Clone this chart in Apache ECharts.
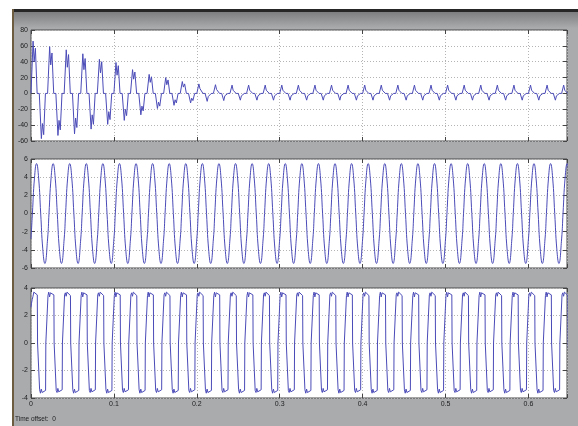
<!DOCTYPE html>
<html><head><meta charset="utf-8">
<script src="https://cdn.jsdelivr.net/npm/echarts@6/dist/echarts.min.js"></script>
<style>html,body{margin:0;padding:0;background:#fff}#c{width:578px;height:426px}</style>
</head><body><div id="c"></div>
<script>
// ---- shared time axis ----
const xTicks = [0, 0.1, 0.2, 0.3, 0.4, 0.5, 0.6];
const xMax = 0.6465;
const period = 0.02;

// ---- plot 1: decaying pulsed current ----
const y1Range = [-60, 80, 20];
const currentOffsets = [0, 0.0025, 0.0038, 0.0053, 0.0074, 0.0100, 0.0125, 0.0138, 0.0153, 0.0174];
const currentCycles = [
  [0, 66, 40, 57, 0, 0, -57, -38, -52, 0],
  [0, 59, 36, 51, 0, 0, -53, -34, -46, 0],
  [0, 55, 33, 49, 0, 0, -51, -31, -43, 0],
  [0, 50, 30, 44, 0, 0, -45, -27, -39, 0],
  [0, 43, 26, 40, 0, 0, -39, -23, -33, 0],
  [0, 39, 23, 35, 0, 0, -34, -20, -28, 0],
  [0, 30, 18, 27, 0, 0, -27, -16, -22, 0],
  [0, 24, 14, 21, 0, 0, -19, -11, -16, 0],
  [0, 20, 11, 17, 0, 0, -15, -8, -12, 0],
  [0, 15, 8, 12, 0, 0, -12, -6, -9, 0],
  [0, 12, 6, 8, 0, 0, -10, -4, -6, 0],
  [0, 11, 5, 6, 0, 0, -9, -3, -5, 0],
  [0, 10.5, 4, 5, 0, 0, -8.5, -3, -4, 0],
  [0, 10.5, 4, 5, 0, 0, -8.5, -3, -4, 0],
  [0, 10.5, 4, 5, 0, 0, -8.5, -3, -4, 0],
  [0, 10.5, 4, 5, 0, 0, -8.5, -3, -4, 0],
  [0, 10.5, 4, 5, 0, 0, -8.5, -3, -4, 0],
  [0, 10.5, 4, 5, 0, 0, -8.5, -3, -4, 0],
  [0, 10.5, 4, 5, 0, 0, -8.5, -3, -4, 0],
  [0, 10.5, 4, 5, 0, 0, -8.5, -3, -4, 0],
  [0, 10.5, 4, 5, 0, 0, -8.5, -3, -4, 0],
  [0, 10.5, 4, 5, 0, 0, -8.5, -3, -4, 0],
  [0, 10.5, 4, 5, 0, 0, -8.5, -3, -4, 0],
  [0, 10.5, 4, 5, 0, 0, -8.5, -3, -4, 0],
  [0, 10.5, 4, 5, 0, 0, -8.5, -3, -4, 0],
  [0, 10.5, 4, 5, 0, 0, -8.5, -3, -4, 0],
  [0, 10.5, 4, 5, 0, 0, -8.5, -3, -4, 0],
  [0, 10.5, 4, 5, 0, 0, -8.5, -3, -4, 0],
  [0, 10.5, 4, 5, 0, 0, -8.5, -3, -4, 0],
  [0, 10.5, 4, 5, 0, 0, -8.5, -3, -4, 0],
  [0, 10.5, 4, 5, 0, 0, -8.5, -3, -4, 0],
  [0, 10.5, 4, 5, 0, 0, -8.5, -3, -4, 0],
  [0, 10.5, 4, 5, 0, 0, -8.5, -3, -4, 0]
];

// ---- plot 2: sinusoid ----
const y2Range = [-6, 6, 2];
const sineOffsets = [0, 0.0017, 0.0042, 0.0067, 0.0092, 0.0117, 0.0142, 0.0167];
const sineCycles = [
  [-2.8, 0, 3.9, 5.5, 3.9, 0, -3.9, -5.5], [-2.8, 0, 3.9, 5.5, 3.9, 0, -3.9, -5.5],
  [-2.8, 0, 3.9, 5.5, 3.9, 0, -3.9, -5.5], [-2.8, 0, 3.9, 5.5, 3.9, 0, -3.9, -5.5],
  [-2.8, 0, 3.9, 5.5, 3.9, 0, -3.9, -5.5], [-2.8, 0, 3.9, 5.5, 3.9, 0, -3.9, -5.5],
  [-2.8, 0, 3.9, 5.5, 3.9, 0, -3.9, -5.5], [-2.8, 0, 3.9, 5.5, 3.9, 0, -3.9, -5.5],
  [-2.8, 0, 3.9, 5.5, 3.9, 0, -3.9, -5.5], [-2.8, 0, 3.9, 5.5, 3.9, 0, -3.9, -5.5],
  [-2.8, 0, 3.9, 5.5, 3.9, 0, -3.9, -5.5], [-2.8, 0, 3.9, 5.5, 3.9, 0, -3.9, -5.5],
  [-2.8, 0, 3.9, 5.5, 3.9, 0, -3.9, -5.5], [-2.8, 0, 3.9, 5.5, 3.9, 0, -3.9, -5.5],
  [-2.8, 0, 3.9, 5.5, 3.9, 0, -3.9, -5.5], [-2.8, 0, 3.9, 5.5, 3.9, 0, -3.9, -5.5],
  [-2.8, 0, 3.9, 5.5, 3.9, 0, -3.9, -5.5], [-2.8, 0, 3.9, 5.5, 3.9, 0, -3.9, -5.5],
  [-2.8, 0, 3.9, 5.5, 3.9, 0, -3.9, -5.5], [-2.8, 0, 3.9, 5.5, 3.9, 0, -3.9, -5.5],
  [-2.8, 0, 3.9, 5.5, 3.9, 0, -3.9, -5.5], [-2.8, 0, 3.9, 5.5, 3.9, 0, -3.9, -5.5],
  [-2.8, 0, 3.9, 5.5, 3.9, 0, -3.9, -5.5], [-2.8, 0, 3.9, 5.5, 3.9, 0, -3.9, -5.5],
  [-2.8, 0, 3.9, 5.5, 3.9, 0, -3.9, -5.5], [-2.8, 0, 3.9, 5.5, 3.9, 0, -3.9, -5.5],
  [-2.8, 0, 3.9, 5.5, 3.9, 0, -3.9, -5.5], [-2.8, 0, 3.9, 5.5, 3.9, 0, -3.9, -5.5],
  [-2.8, 0, 3.9, 5.5, 3.9, 0, -3.9, -5.5], [-2.8, 0, 3.9, 5.5, 3.9, 0, -3.9, -5.5],
  [-2.8, 0, 3.9, 5.5, 3.9, 0, -3.9, -5.5], [-2.8, 0, 3.9, 5.5, 3.9, 0, -3.9, -5.5],
  [-2.8, 0, 3.9, 5.5, 3.9, 0, -3.9, -5.5]
];

// ---- plot 3: three-level voltage ----
const y3Range = [-4, 4, 2];
const voltOffsets = [0, 0.0005, 0.0014, 0.0024, 0.0034, 0.0076, 0.0079, 0.0100, 0.0104, 0.0114, 0.0124, 0.0134, 0.0176, 0.0179];
const voltCycles = [
  [2.6, 2.85, 3.15, 3.4, 3.7, 3.5, 0, 0, -3.4, -3.65, -3.35, -3.6, -3.45, 0],
  [0, 3.45, 3.7, 3.35, 3.65, 3.5, 0, 0, -3.45, -3.6, -3.3, -3.55, -3.4, 0],
  [0, 3.5, 3.65, 3.4, 3.7, 3.45, 0, 0, -3.4, -3.65, -3.35, -3.6, -3.45, 0],
  [0, 3.45, 3.7, 3.35, 3.65, 3.5, 0, 0, -3.45, -3.6, -3.3, -3.55, -3.4, 0],
  [0, 3.5, 3.65, 3.4, 3.7, 3.45, 0, 0, -3.4, -3.65, -3.35, -3.6, -3.45, 0],
  [0, 3.45, 3.7, 3.35, 3.65, 3.5, 0, 0, -3.45, -3.6, -3.3, -3.55, -3.4, 0],
  [0, 3.5, 3.65, 3.4, 3.7, 3.45, 0, 0, -3.4, -3.65, -3.35, -3.6, -3.45, 0],
  [0, 3.45, 3.7, 3.35, 3.65, 3.5, 0, 0, -3.45, -3.6, -3.3, -3.55, -3.4, 0],
  [0, 3.5, 3.65, 3.4, 3.7, 3.45, 0, 0, -3.4, -3.65, -3.35, -3.6, -3.45, 0],
  [0, 3.45, 3.7, 3.35, 3.65, 3.5, 0, 0, -3.45, -3.6, -3.3, -3.55, -3.4, 0],
  [0, 3.5, 3.65, 3.4, 3.7, 3.45, 0, 0, -3.4, -3.65, -3.35, -3.6, -3.45, 0],
  [0, 3.45, 3.7, 3.35, 3.65, 3.5, 0, 0, -3.45, -3.6, -3.3, -3.55, -3.4, 0],
  [0, 3.5, 3.65, 3.4, 3.7, 3.45, 0, 0, -3.4, -3.65, -3.35, -3.6, -3.45, 0],
  [0, 3.45, 3.7, 3.35, 3.65, 3.5, 0, 0, -3.45, -3.6, -3.3, -3.55, -3.4, 0],
  [0, 3.5, 3.65, 3.4, 3.7, 3.45, 0, 0, -3.4, -3.65, -3.35, -3.6, -3.45, 0],
  [0, 3.45, 3.7, 3.35, 3.65, 3.5, 0, 0, -3.45, -3.6, -3.3, -3.55, -3.4, 0],
  [0, 3.5, 3.65, 3.4, 3.7, 3.45, 0, 0, -3.4, -3.65, -3.35, -3.6, -3.45, 0],
  [0, 3.45, 3.7, 3.35, 3.65, 3.5, 0, 0, -3.45, -3.6, -3.3, -3.55, -3.4, 0],
  [0, 3.5, 3.65, 3.4, 3.7, 3.45, 0, 0, -3.4, -3.65, -3.35, -3.6, -3.45, 0],
  [0, 3.45, 3.7, 3.35, 3.65, 3.5, 0, 0, -3.45, -3.6, -3.3, -3.55, -3.4, 0],
  [0, 3.5, 3.65, 3.4, 3.7, 3.45, 0, 0, -3.4, -3.65, -3.35, -3.6, -3.45, 0],
  [0, 3.45, 3.7, 3.35, 3.65, 3.5, 0, 0, -3.45, -3.6, -3.3, -3.55, -3.4, 0],
  [0, 3.5, 3.65, 3.4, 3.7, 3.45, 0, 0, -3.4, -3.65, -3.35, -3.6, -3.45, 0],
  [0, 3.45, 3.7, 3.35, 3.65, 3.5, 0, 0, -3.45, -3.6, -3.3, -3.55, -3.4, 0],
  [0, 3.5, 3.65, 3.4, 3.7, 3.45, 0, 0, -3.4, -3.65, -3.35, -3.6, -3.45, 0],
  [0, 3.45, 3.7, 3.35, 3.65, 3.5, 0, 0, -3.45, -3.6, -3.3, -3.55, -3.4, 0],
  [0, 3.5, 3.65, 3.4, 3.7, 3.45, 0, 0, -3.4, -3.65, -3.35, -3.6, -3.45, 0],
  [0, 3.45, 3.7, 3.35, 3.65, 3.5, 0, 0, -3.45, -3.6, -3.3, -3.55, -3.4, 0],
  [0, 3.5, 3.65, 3.4, 3.7, 3.45, 0, 0, -3.4, -3.65, -3.35, -3.6, -3.45, 0],
  [0, 3.45, 3.7, 3.35, 3.65, 3.5, 0, 0, -3.45, -3.6, -3.3, -3.55, -3.4, 0],
  [0, 3.5, 3.65, 3.4, 3.7, 3.45, 0, 0, -3.4, -3.65, -3.35, -3.6, -3.45, 0],
  [0, 3.45, 3.7, 3.35, 3.65, 3.5, 0, 0, -3.45, -3.6, -3.3, -3.55, -3.4, 0],
  [0, 3.5, 3.65, 3.4, 3.7, 3.45, 0, 0, -3.4, -3.65, -3.35, -3.6, -3.45, 0]
];

const footerText = 'Time offset:  0';

// ---- build ----
function fromCycles(cycles, offsets) {
  const out = [];
  cycles.forEach((row, k) => row.forEach((v, j) => out.push([k * period + offsets[j], v])));
  return out;
}

const FONT = 'Liberation Sans, Arial, sans-serif';
const LINE = '#4b4bb8';
const grids = [
  { left: 31, top: 30, width: 536, height: 111 },
  { left: 31, top: 159, width: 536, height: 109 },
  { left: 31, top: 288, width: 536, height: 110 }
].map(g => Object.assign(g, { show: true, backgroundColor: '#ffffff', borderColor: '#4a4a4a', borderWidth: 1 }));

const ranges = [y1Range, y2Range, y3Range];
const tick = { show: true, inside: true, length: 4, lineStyle: { color: '#444', width: 1 } };
const split = { show: true, lineStyle: { color: '#b4b4b4', width: 1, type: [1, 2] } };
const noLine = { show: false, onZero: false };

const xAxes = [], yAxes = [];
for (let i = 0; i < 3; i++) {
  xAxes.push({
    type: 'value', gridIndex: i, position: 'bottom', min: 0, max: xMax, interval: 0.1,
    axisLine: noLine, axisTick: tick, splitLine: split,
    axisLabel: {
      show: i === 2, fontSize: 7, color: '#222', margin: 3, fontFamily: FONT,
      formatter: v => xTicks.some(t => Math.abs(t - v) < 1e-6) ? String(+v.toFixed(1)) : ''
    }
  });
}
for (let i = 0; i < 3; i++) {
  xAxes.push({
    type: 'value', gridIndex: i, position: 'top', min: 0, max: xMax, interval: 0.1,
    axisLine: noLine, axisTick: tick, splitLine: { show: false }, axisLabel: { show: false }
  });
}
for (let i = 0; i < 3; i++) {
  const r = ranges[i];
  yAxes.push({
    type: 'value', gridIndex: i, position: 'left', min: r[0], max: r[1], interval: r[2],
    axisLine: noLine, axisTick: tick, splitLine: split,
    axisLabel: { fontSize: 7, color: '#222', margin: 3, fontFamily: FONT }
  });
}
for (let i = 0; i < 3; i++) {
  const r = ranges[i];
  yAxes.push({
    type: 'value', gridIndex: i, position: 'right', min: r[0], max: r[1], interval: r[2],
    axisLine: noLine, axisTick: tick, splitLine: { show: false }, axisLabel: { show: false }
  });
}

const lineSeries = (i, data, smooth) => ({
  type: 'line', xAxisIndex: i, yAxisIndex: i, data, smooth: smooth || false,
  showSymbol: false, lineStyle: { width: 1, color: LINE }, animation: false, z: 3
});

const chart = echarts.init(document.getElementById('c'), null, { renderer: 'canvas' });
chart.setOption({
  backgroundColor: '#ffffff',
  animation: false,
  graphic: [
    { type: 'rect', z: -100, silent: true, shape: { x: 14, y: 10, width: 564, height: 416 }, style: { fill: '#a9abad' } },
    { type: 'rect', z: -99, silent: true, shape: { x: 14, y: 12, width: 564, height: 16 },
      style: { fill: { type: 'linear', x: 0, y: 0, x2: 0, y2: 1, colorStops: [{ offset: 0, color: '#7c7e80' }, { offset: 1, color: '#a9abad' }] } } },
    { type: 'rect', z: -98, silent: true, shape: { x: 12, y: 9, width: 566, height: 3 }, style: { fill: '#262626' } },
    { type: 'rect', z: -98, silent: true, shape: { x: 12, y: 9, width: 2, height: 417 }, style: { fill: '#6e5c40' } },
    { type: 'text', z: 10, silent: true, style: { text: footerText, x: 15, y: 419, fill: '#1e1e1e', fontSize: 6.5, fontFamily: FONT, verticalAlign: 'middle' } }
  ],
  grid: grids,
  xAxis: xAxes,
  yAxis: yAxes,
  series: [
    lineSeries(0, fromCycles(currentCycles, currentOffsets)),
    lineSeries(1, fromCycles(sineCycles, sineOffsets), true),
    lineSeries(2, fromCycles(voltCycles, voltOffsets))
  ]
});
</script>
</body></html>
